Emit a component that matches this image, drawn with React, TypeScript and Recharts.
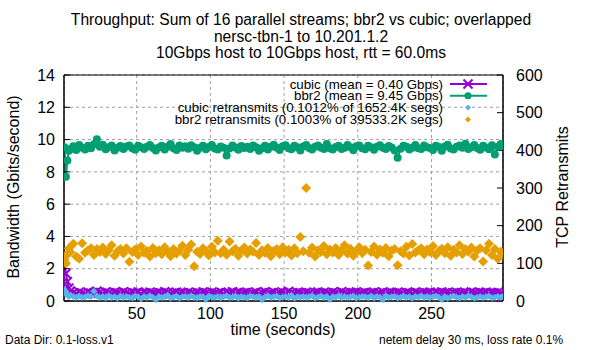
import { ComposedChart, Line, Scatter, XAxis, YAxis, CartesianGrid, ReferenceArea } from 'recharts';

// sample times (seconds): first few seconds at 1s, then every 2s
const times = [1, 2, 3, 4, ...Array.from({ length: 147 }, (_, i) => 5 + 2 * i), 298];

const bbr2Gbps = [
  9.52, 7.7, 8.7, 9.3,
  9.42, 9.58, 9.35, 9.66, 9.5, 9.38, 9.62, 9.47, 9.71, 10.02,
  9.55, 9.68, 9.4, 9.52, 9.63, 9.33, 9.49, 9.6, 9.41, 9.57,
  9.64, 9.46, 9.37, 9.61, 9.53, 9.42, 9.55, 9.67, 9.48, 9.32,
  9.51, 9.62, 9.39, 9.56, 9.73, 9.47, 9.36, 9.64, 9.5, 9.58,
  9.43, 9.65, 9.52, 9.31, 9.49, 9.61, 9.4, 9.54, 9.66, 9.45,
  9.38, 9.57, 9.5, 9.02, 9.44, 9.63, 9.51, 9.37, 9.6, 9.48,
  9.55, 9.41, 9.64, 9.52, 9.3, 9.47, 9.62, 9.39, 9.56, 9.68,
  9.49, 9.36, 9.58, 9.65, 9.46, 9.4, 9.61, 9.53, 9.33, 9.57,
  9.66, 9.48, 9.38, 9.55, 9.63, 9.5, 9.42, 9.72, 9.47, 9.39,
  9.54, 9.62, 9.41, 9.5, 9.67, 9.52, 9.34, 9.58, 9.64, 9.46,
  9.4, 9.61, 9.53, 9.37, 9.56, 9.65, 9.49, 9.42, 9.6, 9.51,
  9.32, 8.88, 9.43, 9.62, 9.55, 9.38, 9.5, 9.66, 9.47, 9.41,
  9.63, 9.52, 9.48, 9.36, 9.61, 9.54, 9.31, 9.57, 9.68, 9.45,
  9.39, 9.56, 9.64, 9.5, 9.74, 9.42, 9.53, 9.66, 9.48, 9.37,
  9.62, 9.51, 9.4, 9.65, 9.08, 9.55, 9.72, 9.6,
];

const cubicGbps = [
  2.5, 1.7, 1.2, 0.8,
  0.62, 0.51, 0.46, 0.55, 0.49, 0.44, 0.54, 0.48, 0.52, 0.6,
  0.53, 0.47, 0.56, 0.5, 0.45, 0.54, 0.51, 0.48, 0.57, 0.5,
  0.47, 0.53, 0.49, 0.56, 0.45, 0.52, 0.48, 0.55, 0.5, 0.46,
  0.53, 0.48, 0.57, 0.51, 0.45, 0.5, 0.55, 0.48, 0.52, 0.47,
  0.55, 0.5, 0.45, 0.53, 0.48, 0.56, 0.51, 0.47, 0.54, 0.5,
  0.48, 0.55, 0.45, 0.52, 0.5, 0.57, 0.47, 0.53, 0.48, 0.52,
  0.55, 0.47, 0.5, 0.54, 0.45, 0.52, 0.57, 0.48, 0.5, 0.54,
  0.47, 0.52, 0.55, 0.48, 0.59, 0.5, 0.47, 0.53, 0.51, 0.48,
  0.55, 0.5, 0.45, 0.52, 0.56, 0.48, 0.53, 0.5, 0.47, 0.55,
  0.51, 0.48, 0.58, 0.5, 0.47, 0.53, 0.51, 0.56, 0.48, 0.5,
  0.53, 0.47, 0.52, 0.55, 0.48, 0.5, 0.56, 0.47, 0.51, 0.53,
  0.48, 0.55, 0.5, 0.45, 0.53, 0.51, 0.47, 0.56, 0.5, 0.48,
  0.53, 0.5, 0.55, 0.47, 0.52, 0.48, 0.56, 0.5, 0.53, 0.47,
  0.51, 0.55, 0.48, 0.5, 0.53, 0.47, 0.56, 0.51, 0.48, 0.53,
  0.5, 0.55, 0.47, 0.51, 0.48, 0.53, 0.5, 0.25,
];

const cubicRetrans = [
  30, 20, 15, 12,
  16, 12, 10, 13, 9, 11, 14, 12, 26, 13,
  9, 12, 8, 14, 10, 11, 7, 13, 9, 12,
  10, 8, 13, 11, 6, 12, 9, 14, 10, 3,
  12, 9, 11, 15, 8, 10, 13, 7, 11, 12,
  9, 14, 10, 8, 12, 11, 4, 13, 10, 9,
  12, 8, 11, 14, 9, 10, 13, 7, 12, 10,
  8, 13, 11, 9, 12, 3, 10, 14, 9, 11,
  13, 8, 10, 12, 9, 15, 7, 11, 10, 12,
  9, 11, 14, 8, 10, 13, 9, 12, 4, 11,
  10, 14, 8, 12, 9, 11, 13, 7, 10, 12,
  11, 9, 13, 8, 12, 10, 3, 14, 9, 11,
  12, 8, 10, 13, 9, 11, 7, 12, 10, 14,
  9, 12, 8, 11, 13, 10, 4, 12, 7, 11,
  13, 10, 8, 12, 9, 14, 11, 7, 10, 12,
  9, 11, 13, 8, 10, 12, 9, 11,
];

const bbr2Retrans = [
  110, 100, 125, 140,
  130, 152, 118, 112, 153, 128, 135, 140, 122, 138,
  130, 142, 125, 135, 148, 120, 132, 138, 126, 140,
  104, 130, 137, 122, 145, 128, 133, 118, 141, 127,
  135, 124, 143, 130, 119, 138, 126, 134, 147, 122,
  136, 150, 92, 131, 125, 140, 133, 121, 144, 129,
  160, 127, 136, 123, 158, 132, 139, 120, 134, 142,
  126, 137, 131, 154, 122, 135, 128, 141, 119, 133,
  138, 124, 143, 129, 136, 121, 140, 127, 170, 132,
  300, 128, 142, 118, 135, 130, 146, 124, 137, 129,
  141, 122, 134, 148, 126, 139, 120, 133, 143, 127,
  136, 94, 130, 145, 123, 137, 128, 141, 119, 134,
  138, 95, 132, 126, 144, 121, 151, 129, 135, 140,
  124, 137, 130, 146, 122, 133, 139, 127, 143, 120,
  136, 129, 148, 125, 138, 131, 142, 118, 134, 140,
  105, 135, 152, 122, 138, 112, 131, 127,
];

const xTicks = [50, 100, 150, 200, 250];
const leftTicks = [0, 2, 4, 6, 8, 10, 12, 14];
const rightTicks = [0, 100, 200, 300, 400, 500, 600];

const titleLines = [
  'Throughput: Sum of 16 parallel streams; bbr2 vs cubic; overlapped',
  'nersc-tbn-1 to 10.201.1.2',
  '10Gbps host to 10Gbps host, rtt = 60.0ms',
];

const legendItems = [
  { label: 'cubic (mean = 0.40 Gbps)', color: '#9400d3', kind: 'x' },
  { label: 'bbr2 (mean = 9.45 Gbps)', color: '#009e73', kind: 'circle' },
  { label: 'cubic retransmits (0.1012% of 1652.4K segs)', color: '#56b4e9', kind: 'diamond' },
  { label: 'bbr2 retransmits (0.1003% of 39533.2K segs)', color: '#e69f00', kind: 'diamond' },
];

const rows = times.map((t, i) => ({
  t,
  cubic: cubicGbps[i],
  bbr2: bbr2Gbps[i],
  cubicRetr: cubicRetrans[i],
  bbr2Retr: bbr2Retrans[i],
}));

const FONT = '"Liberation Sans", Arial, sans-serif';

const XMark = ({ cx, cy, color, s = 4.5 }: any) => (
  <path
    d={`M${cx - s},${cy - s}L${cx + s},${cy + s}M${cx - s},${cy + s}L${cx + s},${cy - s}`}
    stroke={color}
    strokeWidth={2}
    fill="none"
  />
);

const Diamond = ({ cx, cy, color, s }: any) => (
  <path d={`M${cx},${cy - s}L${cx + s},${cy}L${cx},${cy + s}L${cx - s},${cy}Z`} fill={color} />
);

const tickStyle = { fill: '#000', fontSize: 16, fontFamily: FONT };

export default function App() {
  return (
    <div style={{ position: 'absolute', left: 0, top: 0, width: 600, height: 350, background: '#fff' }}>
      <ComposedChart width={600} height={350} data={rows} margin={{ top: 75, right: 0, bottom: 0, left: 0 }}>
        <CartesianGrid yAxisId="left" stroke="#a0a0a0" strokeDasharray="3 3" />
        <XAxis
          dataKey="t"
          type="number"
          domain={[0.7, 298.5]}
          allowDataOverflow
          ticks={xTicks}
          height={49}
          tick={tickStyle}
          tickSize={-6}
          tickMargin={13}
          stroke="#000"
        />
        <YAxis
          yAxisId="left"
          domain={[0, 14]}
          ticks={leftTicks}
          width={64}
          tick={tickStyle}
          tickSize={-6}
          tickMargin={15}
          stroke="#000"
        />
        <YAxis
          yAxisId="right"
          orientation="right"
          domain={[0, 600]}
          ticks={rightTicks}
          width={97}
          tick={{ ...tickStyle, textAnchor: 'start' }}
          tickSize={-6}
          tickMargin={19}
          stroke="#000"
        />
        <ReferenceArea yAxisId="left" x1={0.7} x2={298.5} y1={0} y2={14} fill="none" stroke="#000" strokeWidth={1} />
        <Line
          yAxisId="left"
          dataKey="cubic"
          stroke="#9400d3"
          strokeWidth={2}
          isAnimationActive={false}
          activeDot={false}
          dot={(p: any) => <XMark key={`c${p.index}`} cx={p.cx} cy={p.cy} color="#9400d3" />}
        />
        <Line
          yAxisId="left"
          dataKey="bbr2"
          stroke="#009e73"
          strokeWidth={2}
          isAnimationActive={false}
          activeDot={false}
          dot={(p: any) => <circle key={`b${p.index}`} cx={p.cx} cy={p.cy} r={4} fill="#009e73" />}
        />
        <Scatter
          yAxisId="right"
          data={rows}
          dataKey="cubicRetr"
          isAnimationActive={false}
          zIndex={700}
          shape={(p: any) => <Diamond cx={p.cx} cy={p.cy} s={3.5} color="#56b4e9" />}
        />
        <Scatter
          yAxisId="right"
          data={rows}
          dataKey="bbr2Retr"
          isAnimationActive={false}
          zIndex={710}
          shape={(p: any) => <Diamond cx={p.cx} cy={p.cy} s={5} color="#e69f00" />}
        />
      </ComposedChart>
      <svg
        width={600}
        height={350}
        style={{ position: 'absolute', left: 0, top: 0, pointerEvents: 'none' }}
        fontFamily={FONT}
      >
        {titleLines.map((line, i) => (
          <text key={line} x={301} y={25 + i * 16.5} fontSize={15.6} textAnchor="middle" fill="#000">
            {line}
          </text>
        ))}
        {legendItems.map((item, i) => {
          const y = 84 + i * 11.8;
          return (
            <g key={item.label}>
              <text x={443} y={y + 4.5} fontSize={13.3} textAnchor="end" fill="#000">
                {item.label}
              </text>
              {item.kind !== 'diamond' && <line x1={450} x2={487} y1={y} y2={y} stroke={item.color} strokeWidth={2} />}
              {item.kind === 'x' && <XMark cx={468} cy={y} color={item.color} />}
              {item.kind === 'circle' && <circle cx={468} cy={y} r={3.5} fill={item.color} />}
              {item.kind === 'diamond' && <Diamond cx={468} cy={y} s={3} color={item.color} />}
            </g>
          );
        })}
        <text x={13} y={187} fontSize={16} textAnchor="middle" dominantBaseline="central" transform="rotate(-90 13 187)">
          Bandwidth (Gbits/second)
        </text>
        <text x={562} y={187} fontSize={16} textAnchor="middle" dominantBaseline="central" transform="rotate(-90 562 187)">
          TCP Retransmits
        </text>
        <text x={283} y={335} fontSize={16} textAnchor="middle">
          time (seconds)
        </text>
        <text x={5} y={344} fontSize={12}>
          Data Dir: 0.1-loss.v1
        </text>
        <text x={379} y={344} fontSize={12}>
          netem delay 30 ms, loss rate 0.1%
        </text>
      </svg>
    </div>
  );
}
